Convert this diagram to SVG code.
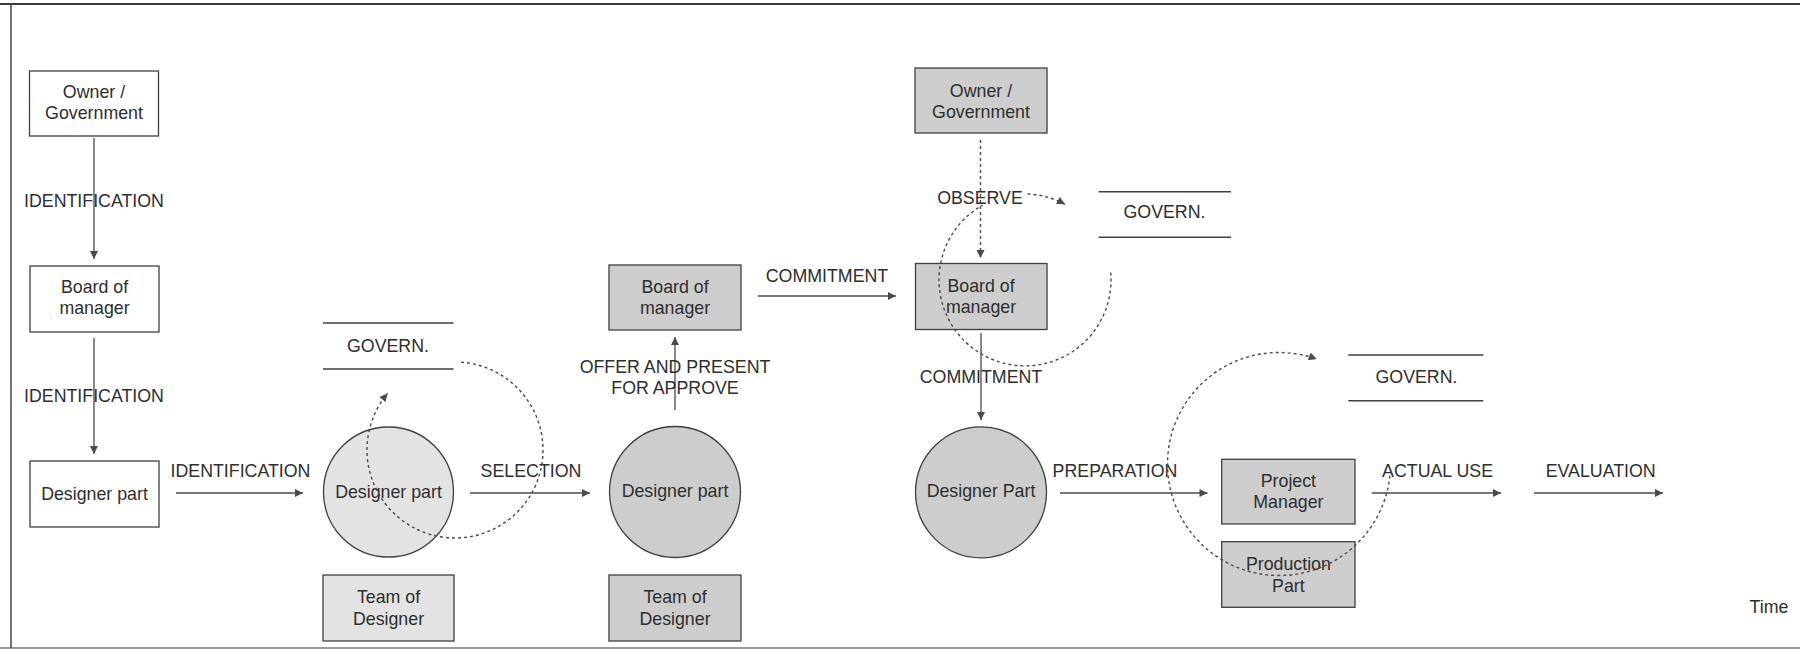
<svg xmlns="http://www.w3.org/2000/svg" width="1800" height="653" viewBox="0 0 1800 653">
  <style>
    text { font-family: "Liberation Sans", Arial, sans-serif; font-size: 17.8px; fill: #2e2e2e; text-anchor: middle; }
    .box { fill: #ffffff; stroke: #3f3f3f; stroke-width: 1.3; }
    .lite { fill: #e3e3e3; stroke: #3f3f3f; stroke-width: 1.3; }
    .shade { fill: #cdcdcd; stroke: #3f3f3f; stroke-width: 1.3; }
    .store { stroke: #3f3f3f; stroke-width: 1.4; fill: none; }
    .flow { stroke: #4a4a4a; stroke-width: 1.3; fill: none; marker-end: url(#ah); }
    .dash { stroke: #4a4a4a; stroke-width: 1.4; fill: none; stroke-dasharray: 3 3; }
    .dash-end { marker-end: url(#ah); }
    .frame { stroke: #3a3a3a; fill: none; }
  </style>
  <defs>
    <marker id="ah" viewBox="0 0 10 10" refX="10" refY="5" markerWidth="10" markerHeight="8" markerUnits="userSpaceOnUse" orient="auto">
      <path d="M0,0 L10,5 L0,10 z" fill="#4a4a4a"/>
    </marker>
  </defs>

  <rect x="0" y="0" width="1800" height="653" fill="#ffffff"/>

  <!-- page frame -->
  <g id="frame">
    <line class="frame" x1="0" y1="4" x2="1800" y2="4" stroke-width="2.2"/>
    <line class="frame" x1="11" y1="4" x2="11" y2="648" stroke-width="1.4"/>
    <line class="frame" x1="0" y1="648" x2="1800" y2="648" stroke-width="1.2" stroke="#777"/>
  </g>

  <!-- stage 1 -->
  <g id="owner1">
    <rect class="box" x="29.5" y="71" width="129" height="65"/>
    <text x="94" y="97.5">Owner /</text>
    <text x="94" y="119">Government</text>
  </g>
  <g id="board1">
    <rect class="box" x="30" y="266" width="129" height="66"/>
    <text x="94.5" y="293">Board of</text>
    <text x="94.5" y="314">manager</text>
  </g>
  <g id="designer1">
    <rect class="box" x="30" y="461" width="129" height="66"/>
    <text x="94.5" y="499.5">Designer part</text>
  </g>

  <!-- stage 2 -->
  <g id="govern1">
    <line class="store" x1="323" y1="323" x2="453.5" y2="323"/>
    <line class="store" x1="323" y1="369" x2="453.5" y2="369"/>
    <text x="388" y="352">GOVERN.</text>
  </g>
  <g id="designer2">
    <circle class="lite" cx="388.5" cy="492" r="65"/>
    <text x="388.5" y="498">Designer part</text>
  </g>
  <g id="team1">
    <rect class="lite" x="323" y="575" width="131" height="66"/>
    <text x="388.5" y="603">Team of</text>
    <text x="388.5" y="625">Designer</text>
  </g>

  <!-- stage 3 -->
  <g id="board2">
    <rect class="shade" x="609" y="265" width="132" height="65"/>
    <text x="675" y="293">Board of</text>
    <text x="675" y="313.5">manager</text>
  </g>
  <g id="designer3">
    <circle class="shade" cx="675" cy="492" r="65.5"/>
    <text x="675" y="497">Designer part</text>
  </g>
  <g id="team2">
    <rect class="shade" x="609" y="575" width="132" height="66"/>
    <text x="675" y="603">Team of</text>
    <text x="675" y="625">Designer</text>
  </g>

  <!-- stage 4 -->
  <g id="owner2">
    <rect class="shade" x="915" y="68" width="132" height="65"/>
    <text x="981" y="97">Owner /</text>
    <text x="981" y="118">Government</text>
  </g>
  <g id="board3">
    <rect class="shade" x="915.5" y="263.5" width="131.5" height="66"/>
    <text x="981" y="292">Board of</text>
    <text x="981" y="313">manager</text>
  </g>
  <g id="designer4">
    <circle class="shade" cx="981" cy="492.3" r="65.5"/>
    <text x="981" y="497">Designer Part</text>
  </g>
  <g id="govern2">
    <line class="store" x1="1098.6" y1="191.7" x2="1231" y2="191.7"/>
    <line class="store" x1="1098.6" y1="237.3" x2="1231" y2="237.3"/>
    <text x="1164.5" y="218.3">GOVERN.</text>
  </g>

  <!-- stage 5 -->
  <g id="project">
    <rect class="shade" x="1221.7" y="459.3" width="133.3" height="64.7"/>
    <text x="1288.4" y="486.7">Project</text>
    <text x="1288.4" y="508.3">Manager</text>
  </g>
  <g id="production">
    <rect class="shade" x="1221.7" y="541.7" width="133.3" height="65.6"/>
    <text x="1288.4" y="570">Production</text>
    <text x="1288.4" y="591.7">Part</text>
  </g>
  <g id="govern3">
    <line class="store" x1="1348.3" y1="355" x2="1483.3" y2="355"/>
    <line class="store" x1="1348.3" y1="400.7" x2="1483.3" y2="400.7"/>
    <text x="1416.5" y="382.7">GOVERN.</text>
  </g>
  <g id="time">
    <text x="1769" y="613">Time</text>
  </g>

  <!-- connectors -->
  <g id="connectors">
    <line class="flow" x1="94" y1="138" x2="94" y2="259"/>
    <text x="94" y="207">IDENTIFICATION</text>
    <line class="flow" x1="94" y1="338" x2="94" y2="454"/>
    <text x="94" y="402">IDENTIFICATION</text>
    <line class="flow" x1="176" y1="493" x2="303" y2="493"/>
    <text x="240.5" y="477">IDENTIFICATION</text>

    <path class="dash dash-end" d="M461.1,362.2 A88,88 0 1 1 387.6,393.4"/>

    <line class="flow" x1="470" y1="493" x2="590" y2="493"/>
    <text x="531" y="477">SELECTION</text>

    <line class="flow" x1="675" y1="410" x2="675" y2="337"/>
    <text x="675" y="373">OFFER AND PRESENT</text>
    <text x="675" y="393.5">FOR APPROVE</text>

    <line class="flow" x1="758" y1="296" x2="896" y2="296"/>
    <text x="827" y="282">COMMITMENT</text>

    <line class="dash dash-end" x1="980.5" y1="140" x2="980.5" y2="258"/>
    <path class="dash" d="M1110.7,272.5 A86,86 0 1 1 982.6,205.1"/>
    <path class="dash dash-end" d="M1027.5,194 A86,86 0 0 1 1065,204.2"/>
    <text x="980" y="204">OBSERVE</text>

    <line class="flow" x1="981" y1="333" x2="981" y2="420"/>
    <text x="981" y="383">COMMITMENT</text>

    <line class="flow" x1="1060" y1="493" x2="1207.5" y2="493"/>
    <text x="1115" y="477">PREPARATION</text>

    <path class="dash dash-end" d="M1389.9,475.7 A111.5,111.5 0 1 1 1316.8,359.1"/>

    <line class="flow" x1="1371.8" y1="493" x2="1501" y2="493"/>
    <text x="1437.6" y="477">ACTUAL USE</text>
    <line class="flow" x1="1534" y1="493" x2="1663" y2="493"/>
    <text x="1600.7" y="477">EVALUATION</text>
  </g>
</svg>
